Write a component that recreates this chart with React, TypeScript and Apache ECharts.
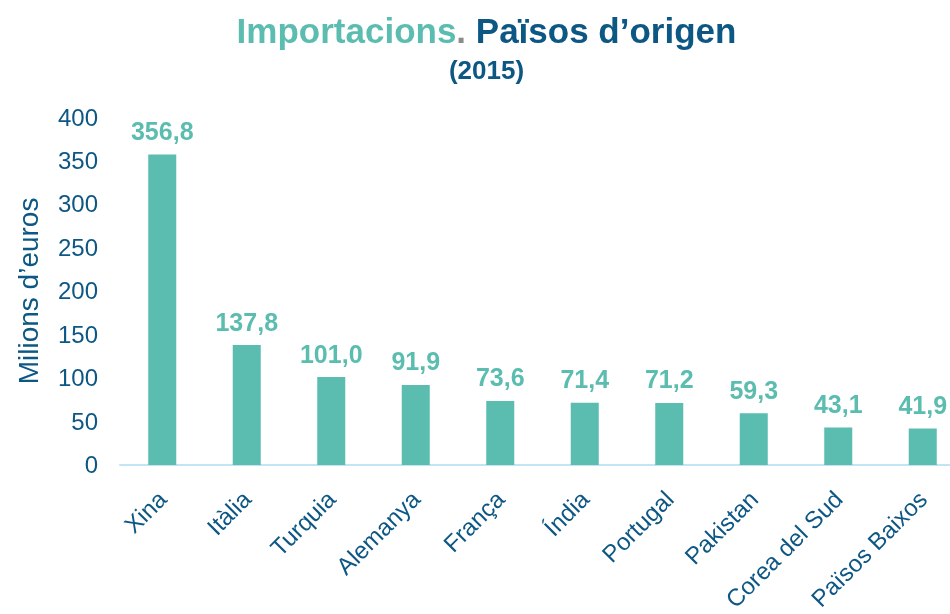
import React, { useEffect, useRef } from "react";
import * as echarts from "echarts";

const categories = ["Xina", "Itàlia", "Turquia", "Alemanya", "França", "Índia", "Portugal", "Pakistan", "Corea del Sud", "Països Baixos"];
const values = [356.8, 137.8, 101.0, 91.9, 73.6, 71.4, 71.2, 59.3, 43.1, 41.9];

const TEAL = "#5bbcb0";
const BLUE = "#0d5784";
const FONT = "Liberation Sans, Arial, sans-serif";

export default function App() {
  const ref = useRef<HTMLDivElement>(null);
  useEffect(() => {
    const chart = echarts.init(ref.current!, null, { renderer: "svg" });
    chart.setOption({
      animation: false,
      textStyle: { fontFamily: FONT },
      title: [
        {
          text: "{a|Importacions}{b|. }{c|Països d’origen}",
          left: "center",
          top: 8,
          textStyle: {
            rich: {
              a: { fontSize: 35, fontWeight: "bold", color: TEAL, fontFamily: FONT },
              b: { fontSize: 35, fontWeight: "bold", color: "#8c8c8c", fontFamily: FONT },
              c: { fontSize: 35, fontWeight: "bold", color: BLUE, fontFamily: FONT },
            },
          },
        },
        {
          text: "(2015)",
          left: "center",
          top: 52,
          textStyle: { fontSize: 26, fontWeight: "bold", color: BLUE, fontFamily: FONT },
        },
      ],
      grid: { left: 120, width: 845, top: 117, height: 350, containLabel: false },
      xAxis: {
        type: "category",
        data: categories,
        axisLine: { lineStyle: { color: "#c3e4f5", width: 2 } },
        axisTick: { show: false },
        axisLabel: { rotate: 45, fontSize: 24, color: BLUE, margin: 30, interval: 0, fontFamily: FONT },
      },
      yAxis: {
        type: "value",
        min: 0,
        max: 400,
        interval: 50,
        name: "Milions d’euros",
        nameLocation: "middle",
        nameGap: 78,
        nameTextStyle: { fontSize: 28, color: BLUE, fontFamily: FONT },
        splitLine: { show: false },
        axisLine: { show: false },
        axisTick: { show: false },
        axisLabel: { fontSize: 24, color: BLUE, margin: 22, fontFamily: FONT },
      },
      series: [
        {
          type: "bar",
          data: values,
          barWidth: 28,
          itemStyle: { color: TEAL },
          label: {
            show: true,
            position: "top",
            distance: 11,
            fontSize: 25,
            fontWeight: "bold",
            color: TEAL,
            fontFamily: FONT,
            formatter: (p: any) => p.value.toFixed(1).replace(".", ","),
          },
        },
      ],
    });
    return () => chart.dispose();
  }, []);
  return (
    <div style={{ position: "fixed", left: 0, top: 0, width: 950, height: 614, overflow: "hidden" }}>
      <div ref={ref} style={{ width: 973, height: 614 }} />
    </div>
  );
}
